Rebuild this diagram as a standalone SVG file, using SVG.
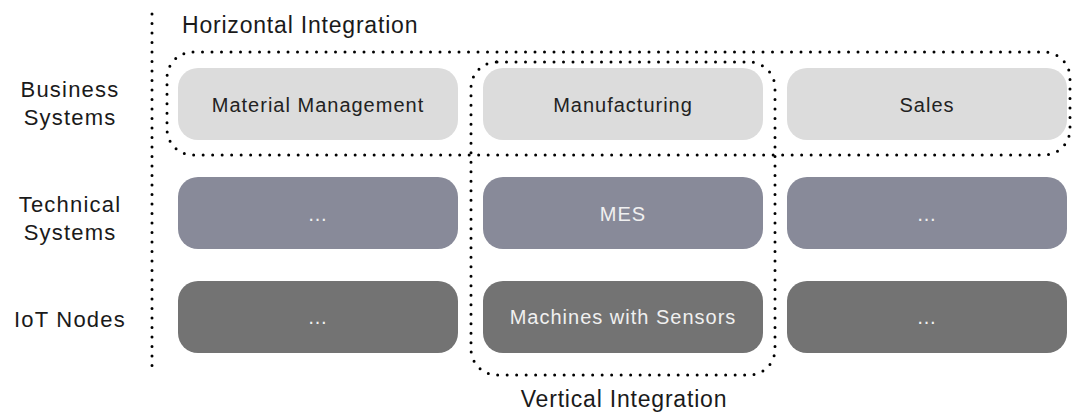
<svg xmlns="http://www.w3.org/2000/svg" width="1072" height="416" viewBox="0 0 1072 416">
<style>
.lbl{font-family:"Liberation Sans",Arial,sans-serif;font-size:22px;letter-spacing:1.2px;fill:#1a1a1a;text-anchor:middle}
.ttl{font-family:"Liberation Sans",Arial,sans-serif;font-size:23px;letter-spacing:0.8px;fill:#1a1a1a}
.bt{font-family:"Liberation Sans",Arial,sans-serif;font-size:20px;letter-spacing:1px;text-anchor:middle}
.r1{fill:#dcdcdc}.r2{fill:#888a99}.r3{fill:#737373}
.t1{fill:#222}.t2{fill:#f0f0f0}
.dot{fill:none;stroke:#000;stroke-width:3;stroke-linecap:round;stroke-dasharray:0 9.5}
</style>
<rect width="1072" height="416" fill="#fff"/>
<g id="connectors">
<line class="dot" x1="152" y1="14" x2="152" y2="368"/>
<rect id="horizontal-integration" class="dot" x="167" y="52" width="903" height="103" rx="26"/>
<rect id="vertical-integration" class="dot" x="471" y="62" width="304" height="313" rx="26"/>
</g>
<text class="ttl" x="182" y="33">Horizontal Integration</text>
<text class="ttl" x="624" y="407" text-anchor="middle">Vertical Integration</text>
<g id="row-labels">
<text class="lbl" x="70" y="97">Business</text>
<text class="lbl" x="70" y="125">Systems</text>
<text class="lbl" x="70" y="212">Technical</text>
<text class="lbl" x="70" y="240">Systems</text>
<text class="lbl" x="70" y="327">IoT Nodes</text>
</g>
<g id="material-management"><rect class="r1" x="178" y="68" width="280" height="72" rx="20"/><text class="bt t1" x="318" y="112">Material Management</text></g>
<g id="manufacturing"><rect class="r1" x="483" y="68" width="280" height="72" rx="20"/><text class="bt t1" x="623" y="112">Manufacturing</text></g>
<g id="sales"><rect class="r1" x="787" y="68" width="280" height="72" rx="20"/><text class="bt t1" x="927" y="112">Sales</text></g>
<g id="tech-1"><rect class="r2" x="178" y="177" width="280" height="72" rx="20"/><text class="bt t2" x="318" y="221">…</text></g>
<g id="mes"><rect class="r2" x="483" y="177" width="280" height="72" rx="20"/><text class="bt t2" x="623" y="221">MES</text></g>
<g id="tech-3"><rect class="r2" x="787" y="177" width="280" height="72" rx="20"/><text class="bt t2" x="927" y="221">…</text></g>
<g id="iot-1"><rect class="r3" x="178" y="281" width="280" height="72" rx="20"/><text class="bt t2" x="318" y="324">…</text></g>
<g id="machines"><rect class="r3" x="483" y="281" width="280" height="72" rx="20"/><text class="bt t2" x="623" y="324">Machines with Sensors</text></g>
<g id="iot-3"><rect class="r3" x="787" y="281" width="280" height="72" rx="20"/><text class="bt t2" x="927" y="324">…</text></g>
</svg>
